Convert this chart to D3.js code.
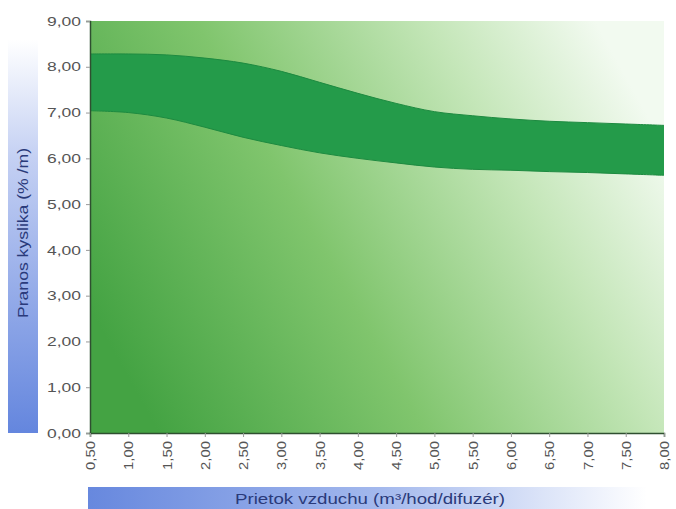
<!DOCTYPE html>
<html>
<head>
<meta charset="utf-8">
<script src="https://cdn.jsdelivr.net/npm/d3@7"></script>
<style>
  body { margin: 0; background: #fff; }
  .tick text { font-family: "Liberation Sans", Arial, sans-serif; fill: #555; }
</style>
</head>
<body>
<div id="main"></div>
<script>
const flows = [0.5, 1.0, 1.5, 2.0, 2.5, 3.0, 3.5, 4.0, 4.5, 5.0, 5.5, 6.0, 6.5, 7.0, 7.5, 8.0];
const upperValues = [8.28, 8.28, 8.26, 8.19, 8.08, 7.9, 7.66, 7.42, 7.2, 7.02, 6.93, 6.86, 6.81, 6.78, 6.75, 6.72];
const lowerValues = [7.04, 7.0, 6.88, 6.68, 6.46, 6.28, 6.12, 6.0, 5.9, 5.81, 5.76, 5.74, 5.71, 5.69, 5.66, 5.63];
const yTicks = [0, 1, 2, 3, 4, 5, 6, 7, 8, 9];
const yLabel = 'Pranos kyslika (% /m)';
const xLabel = 'Prietok vzduchu (m³/hod/difuzér)';

function main() {
  const width = 676;
  const height = 509;
  const left = 90;
  const right = 664;
  const top = 21;
  const bottom = 433;
  const fmt = v => d3.format('.2f')(v).replace('.', ',');

  const xScale = d3.scaleLinear().domain([0.5, 8]).range([left, right]);
  const yScale = d3.scaleLinear().domain([0, 9]).range([bottom, top]);

  const svg = d3.select('#main')
    .append('svg')
    .attr('width', width)
    .attr('height', height);

  const defs = svg.append('defs');

  const bg = defs.append('linearGradient')
    .attr('id', 'bg')
    .attr('x1', 0).attr('y1', 0.7)
    .attr('x2', 1).attr('y2', 0.3);
  bg.append('stop').attr('offset', 0).attr('stop-color', '#44a343');
  bg.append('stop').attr('offset', 0.4).attr('stop-color', '#80c56d');
  bg.append('stop').attr('offset', 0.75).attr('stop-color', '#c4e6b8');
  bg.append('stop').attr('offset', 1).attr('stop-color', '#f2faf0');

  const yBar = defs.append('linearGradient')
    .attr('id', 'ybar')
    .attr('x1', 0).attr('y1', 0)
    .attr('x2', 0).attr('y2', 1);
  yBar.append('stop').attr('offset', 0).attr('stop-color', '#ffffff');
  yBar.append('stop').attr('offset', 0.3).attr('stop-color', '#c4d0f3');
  yBar.append('stop').attr('offset', 1).attr('stop-color', '#6486de');

  const xBar = defs.append('linearGradient')
    .attr('id', 'xbar')
    .attr('x1', 0).attr('y1', 0)
    .attr('x2', 1).attr('y2', 0);
  xBar.append('stop').attr('offset', 0).attr('stop-color', '#6788de');
  xBar.append('stop').attr('offset', 0.5).attr('stop-color', '#a4b9ed');
  xBar.append('stop').attr('offset', 0.95).attr('stop-color', '#ffffff');

  // axis title bars
  svg.append('rect')
    .attr('x', 8).attr('y', 40)
    .attr('width', 30).attr('height', bottom - 40)
    .attr('fill', 'url(#ybar)');

  svg.append('rect')
    .attr('x', 88).attr('y', 487)
    .attr('width', width - 88).attr('height', 22)
    .attr('fill', 'url(#xbar)');

  // plot background
  svg.append('rect')
    .attr('x', left).attr('y', top)
    .attr('width', right - left).attr('height', bottom - top)
    .attr('fill', 'url(#bg)');

  const band = flows.map((f, i) => ({ x: f, hi: upperValues[i], lo: lowerValues[i] }));

  const area = d3.area()
    .x(d => xScale(d.x))
    .y0(d => yScale(d.lo))
    .y1(d => yScale(d.hi))
    .curve(d3.curveCatmullRom);

  svg.append('path')
    .datum(band)
    .attr('d', area)
    .attr('fill', '#249b4a');

  const lineHi = d3.line().x(d => xScale(d.x)).y(d => yScale(d.hi)).curve(d3.curveCatmullRom);
  const lineLo = d3.line().x(d => xScale(d.x)).y(d => yScale(d.lo)).curve(d3.curveCatmullRom);

  svg.append('path').datum(band).attr('d', lineHi)
    .attr('fill', 'none').attr('stroke', '#1d8a40').attr('stroke-width', 1);
  svg.append('path').datum(band).attr('d', lineLo)
    .attr('fill', 'none').attr('stroke', '#1d8a40').attr('stroke-width', 1);

  const yAxis = d3.axisLeft(yScale)
    .tickValues(yTicks)
    .tickFormat(fmt)
    .tickSize(4)
    .tickPadding(5);

  const xAxis = d3.axisBottom(xScale)
    .tickValues(flows)
    .tickFormat(fmt)
    .tickSize(4)
    .tickPadding(3);

  const gy = svg.append('g')
    .attr('transform', `translate(${left}, 0)`)
    .call(yAxis);
  gy.select('.domain').attr('stroke', '#2f4f30').attr('stroke-width', 1.5);
  gy.selectAll('.tick line').attr('stroke', '#999');
  gy.selectAll('.tick text')
    .style('font-size', '13px')
    .attr('textLength', 34)
    .attr('lengthAdjust', 'spacingAndGlyphs');

  const gx = svg.append('g')
    .attr('transform', `translate(0, ${bottom})`)
    .call(xAxis);
  gx.select('.domain').attr('stroke', '#2f4f30').attr('stroke-width', 1.5);
  gx.selectAll('.tick line').attr('stroke', '#999');
  gx.selectAll('.tick text')
    .style('font-size', '13px')
    .attr('transform', 'rotate(-90)')
    .attr('x', -8)
    .attr('y', 0)
    .attr('dy', '0.35em')
    .attr('textLength', 29)
    .attr('lengthAdjust', 'spacingAndGlyphs')
    .style('text-anchor', 'end');

  svg.append('text')
    .attr('transform', 'rotate(-90)')
    .attr('x', -318)
    .attr('y', 28)
    .attr('textLength', 170)
    .attr('lengthAdjust', 'spacingAndGlyphs')
    .style('font-family', '"Liberation Sans", Arial, sans-serif')
    .style('font-size', '14px')
    .style('fill', '#2a3a7a')
    .text(yLabel);

  svg.append('text')
    .attr('x', 235)
    .attr('y', 504)
    .attr('textLength', 270)
    .attr('lengthAdjust', 'spacingAndGlyphs')
    .style('font-family', '"Liberation Sans", Arial, sans-serif')
    .style('font-size', '14px')
    .style('fill', '#2a3a7a')
    .text(xLabel);
}

document.addEventListener('DOMContentLoaded', main);
</script>
</body>
</html>
